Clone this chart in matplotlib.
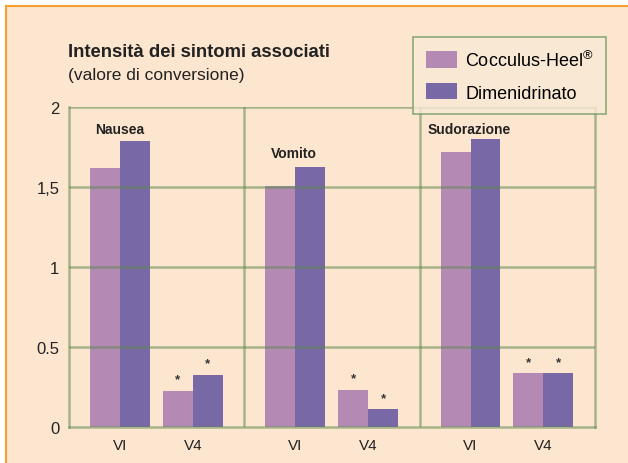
import matplotlib.pyplot as plt
import numpy as np
from matplotlib.patches import Rectangle, Patch

plt.rcParams['font.family'] = ['Liberation Sans', 'DejaVu Sans']
plt.rcParams['mathtext.fontset'] = 'custom'
plt.rcParams['mathtext.rm'] = 'Liberation Sans'

symptoms = ["Nausea", "Vomito", "Sudorazione"]
visits = ["VI", "V4"]
cocculus = [[1.62, 0.225], [1.505, 0.23], [1.72, 0.335]]
dimenidrinato = [[1.79, 0.325], [1.625, 0.11], [1.80, 0.335]]
significant = [[False, True], [False, True], [False, True]]
ytick_vals = [0, 0.5, 1, 1.5, 2]
ytick_labels = ["0", "0.5", "1", "1,5", "2"]

pink = "#b48ab5"
purple = "#7868a6"
green = "#5f8a4f"
peach = "#fde6cf"

fig = plt.figure(figsize=(6.28, 4.64), dpi=100)
fig.patch.set_facecolor("white")
fig.patches.append(Rectangle((6 / 628, -0.1), 1.2, 457 / 464 + 0.1, transform=fig.transFigure,
                             facecolor=peach, edgecolor="#f5a030", lw=1.5, zorder=-10))

ax = fig.add_axes([69 / 628, 36 / 464, 526 / 628, 320 / 464])
ax.set_facecolor("none")

visit_pos = [0.29, 0.706]
offset = 0.0855
width = 0.171
xt, xl = [], []
for g, name in enumerate(symptoms):
    for v, vis in enumerate(visits):
        c = g + visit_pos[v]
        ax.bar(c - offset, cocculus[g][v], width, color=pink, zorder=2)
        ax.bar(c + offset, dimenidrinato[g][v], width, color=purple, zorder=2)
        xt.append(c)
        xl.append(vis)
        if significant[g][v]:
            ax.text(c - offset, cocculus[g][v] + 0.035, "*", ha="center", va="bottom", fontsize=9.5,
                    fontweight="bold", color="#333333")
            ax.text(c + offset, dimenidrinato[g][v] + 0.035, "*", ha="center", va="bottom", fontsize=9.5,
                    fontweight="bold", color="#333333")

label_pos = [(0.148, 1.84), (1.154, 1.69), (2.046, 1.84)]
for name, (lx, ly) in zip(symptoms, label_pos):
    ax.text(lx, ly, name, fontsize=10, fontweight="bold", color="#222222", ha="left", va="baseline")

for y in ytick_vals[1:]:
    ax.axhline(y, color=green, lw=1.8, alpha=0.55, zorder=3)
for x in [1, 2]:
    ax.axvline(x, color=green, lw=1.8, alpha=0.55, zorder=3)

ax.set_xlim(0, 3)
ax.set_ylim(0, 2)
ax.set_yticks(ytick_vals)
ax.set_yticklabels(ytick_labels, fontsize=12, color="#222222")
ax.set_xticks(xt)
ax.set_xticklabels(xl, fontsize=11, color="#222222")
ax.tick_params(axis="y", length=0, pad=7)
ax.tick_params(axis="x", length=0, pad=8)
for s in ["left", "bottom", "right"]:
    ax.spines[s].set_color(green)
    ax.spines[s].set_alpha(0.55)
    ax.spines[s].set_linewidth(1.8)
ax.spines["bottom"].set_zorder(3)
ax.spines["top"].set_visible(False)

fig.text(68 / 628, 1 - 57 / 464, "Intensità dei sintomi associati", fontsize=13.3, fontweight="bold",
         color="#222222", va="baseline")
fig.text(68 / 628, 1 - 80 / 464, "(valore di conversione)", fontsize=12.5, color="#222222", va="baseline")

handles = [Patch(facecolor=pink, label=r"Cocculus-Heel$^{®}$"),
           Patch(facecolor=purple, label="Dimenidrinato")]
leg = fig.legend(handles=handles, loc="upper left", bbox_to_anchor=(413 / 628, 1 - 38 / 464),
                 borderaxespad=0, fontsize=13, frameon=True, fancybox=False, handlelength=1.75,
                 handleheight=1.0, handletextpad=0.45, borderpad=0.7, labelspacing=0.75)
leg.get_frame().set_facecolor("#f9ebd6")
leg.get_frame().set_edgecolor("#6f9a62")
leg.get_frame().set_linewidth(1.2)
leg.set_zorder(10)

fig.savefig("out.png", dpi=100, facecolor=fig.get_facecolor())
